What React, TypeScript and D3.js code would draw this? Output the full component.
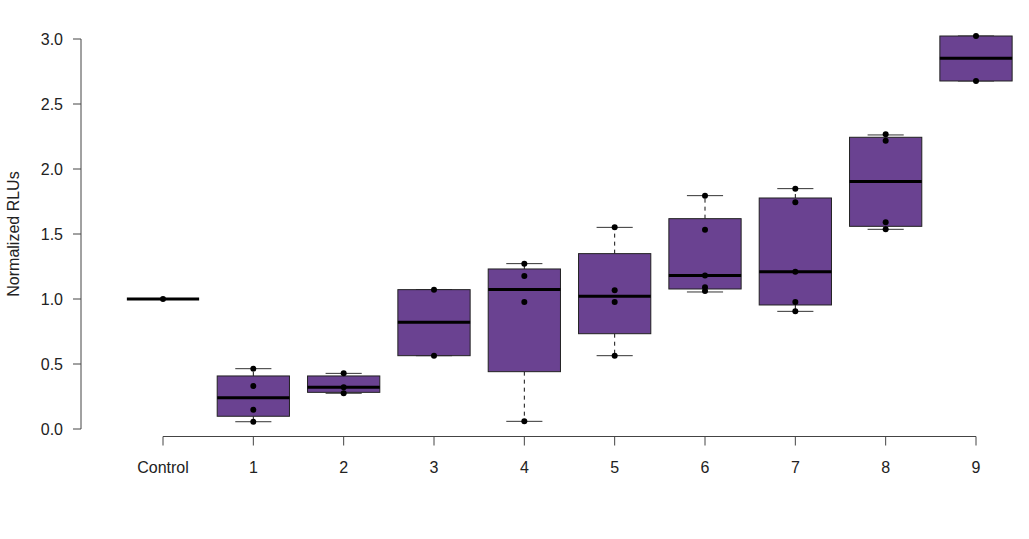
import { useEffect, useRef } from 'react';
import * as d3 from 'd3';

const categories = ['Control', '1', '2', '3', '4', '5', '6', '7', '8', '9'];
const q1 = [1.0, 0.098, 0.282, 0.564, 0.441, 0.733, 1.077, 0.954, 1.559, 2.677];
const medians = [1.0, 0.241, 0.321, 0.821, 1.074, 1.021, 1.18, 1.21, 1.903, 2.851];
const q3 = [1.0, 0.408, 0.408, 1.072, 1.231, 1.349, 1.618, 1.777, 2.244, 3.023];
const whiskerLow = [1.0, 0.056, 0.275, 0.564, 0.059, 0.564, 1.054, 0.905, 1.536, 2.677];
const whiskerHigh = [1.0, 0.464, 0.428, 1.072, 1.272, 1.551, 1.795, 1.849, 2.262, 3.023];
const points = [
  [1.0],
  [0.464, 0.331, 0.148, 0.056],
  [0.428, 0.321, 0.275],
  [1.072, 0.564],
  [1.272, 1.177, 0.977, 0.059],
  [1.551, 1.067, 0.977, 0.564],
  [1.795, 1.533, 1.18, 1.09, 1.062],
  [1.849, 1.744, 1.21, 0.977, 0.905],
  [2.267, 2.218, 1.59, 1.536],
  [3.023, 2.677],
];
const yTicks = [0, 0.5, 1, 1.5, 2, 2.5, 3];

const WIDTH = 1029;
const HEIGHT = 539;
const FONT = '"Liberation Sans", Arial, sans-serif';
const BOX_FILL = '#6a4291';

const App = () => {
  const svgRef = useRef<SVGSVGElement>(null);

  useEffect(() => {
    if (!svgRef.current) return;
    const svg = d3.select(svgRef.current);
    svg.selectAll('*').remove();

    const x = d3.scalePoint<string>().domain(categories).range([163, 976]);
    const y = d3.scaleLinear().domain([0, 3]).range([429, 39]);
    const step = x.step();
    const boxW = step * 0.8;
    const capW = boxW / 2;

    // y axis
    const yAxis = svg.append('g').attr('transform', 'translate(81,0)');
    yAxis
      .append('line')
      .attr('y1', y(0))
      .attr('y2', y(3))
      .attr('stroke', '#444')
      .attr('stroke-width', 1);
    yTicks.forEach((t) => {
      yAxis
        .append('line')
        .attr('x1', -8)
        .attr('x2', 0)
        .attr('y1', y(t))
        .attr('y2', y(t))
        .attr('stroke', '#444');
      yAxis
        .append('text')
        .attr('x', -18)
        .attr('y', y(t))
        .attr('dy', '0.36em')
        .attr('text-anchor', 'end')
        .attr('font-family', FONT)
        .attr('font-size', 16)
        .attr('fill', '#222')
        .text(t.toFixed(1));
    });

    svg
      .append('text')
      .attr('transform', `translate(19,${(y(0) + y(3)) / 2}) rotate(-90)`)
      .attr('text-anchor', 'middle')
      .attr('font-family', FONT)
      .attr('font-size', 16)
      .attr('fill', '#222')
      .text('Normalized RLUs');

    // x axis
    const xAxis = svg.append('g').attr('transform', 'translate(0,436.5)');
    xAxis
      .append('line')
      .attr('x1', x(categories[0])!)
      .attr('x2', x(categories[categories.length - 1])!)
      .attr('stroke', '#444');
    categories.forEach((c) => {
      xAxis
        .append('line')
        .attr('x1', x(c)!)
        .attr('x2', x(c)!)
        .attr('y1', 0)
        .attr('y2', 9)
        .attr('stroke', '#444');
      xAxis
        .append('text')
        .attr('x', x(c)!)
        .attr('y', 36)
        .attr('text-anchor', 'middle')
        .attr('font-family', FONT)
        .attr('font-size', 16)
        .attr('fill', '#222')
        .text(c);
    });

    // boxes
    categories.forEach((c, i) => {
      const cx = x(c)!;
      const g = svg.append('g');

      // dashed whiskers
      if (whiskerHigh[i] > q3[i]) {
        g.append('line')
          .attr('x1', cx)
          .attr('x2', cx)
          .attr('y1', y(q3[i]))
          .attr('y2', y(whiskerHigh[i]))
          .attr('stroke', '#111')
          .attr('stroke-dasharray', '4,4');
      }
      if (whiskerLow[i] < q1[i]) {
        g.append('line')
          .attr('x1', cx)
          .attr('x2', cx)
          .attr('y1', y(q1[i]))
          .attr('y2', y(whiskerLow[i]))
          .attr('stroke', '#111')
          .attr('stroke-dasharray', '4,4');
      }
      // caps
      [whiskerLow[i], whiskerHigh[i]].forEach((v) => {
        g.append('line')
          .attr('x1', cx - capW / 2)
          .attr('x2', cx + capW / 2)
          .attr('y1', y(v))
          .attr('y2', y(v))
          .attr('stroke', '#333');
      });

      if (q3[i] > q1[i]) {
        g.append('rect')
          .attr('x', cx - boxW / 2)
          .attr('y', y(q3[i]))
          .attr('width', boxW)
          .attr('height', y(q1[i]) - y(q3[i]))
          .attr('fill', BOX_FILL)
          .attr('stroke', '#222')
          .attr('stroke-width', 1);
      }
      g.append('line')
        .attr('x1', cx - boxW / 2)
        .attr('x2', cx + boxW / 2)
        .attr('y1', y(medians[i]))
        .attr('y2', y(medians[i]))
        .attr('stroke', '#000')
        .attr('stroke-width', 3);

      g.selectAll('circle')
        .data(points[i])
        .join('circle')
        .attr('cx', cx)
        .attr('cy', (d) => y(d))
        .attr('r', 3)
        .attr('fill', '#000');
    });
  }, []);

  return (
    <div style={{ position: 'absolute', left: 0, top: 0 }}>
      <svg ref={svgRef} width={WIDTH} height={HEIGHT} style={{ display: 'block', background: '#fff' }} />
    </div>
  );
};

export default App;
